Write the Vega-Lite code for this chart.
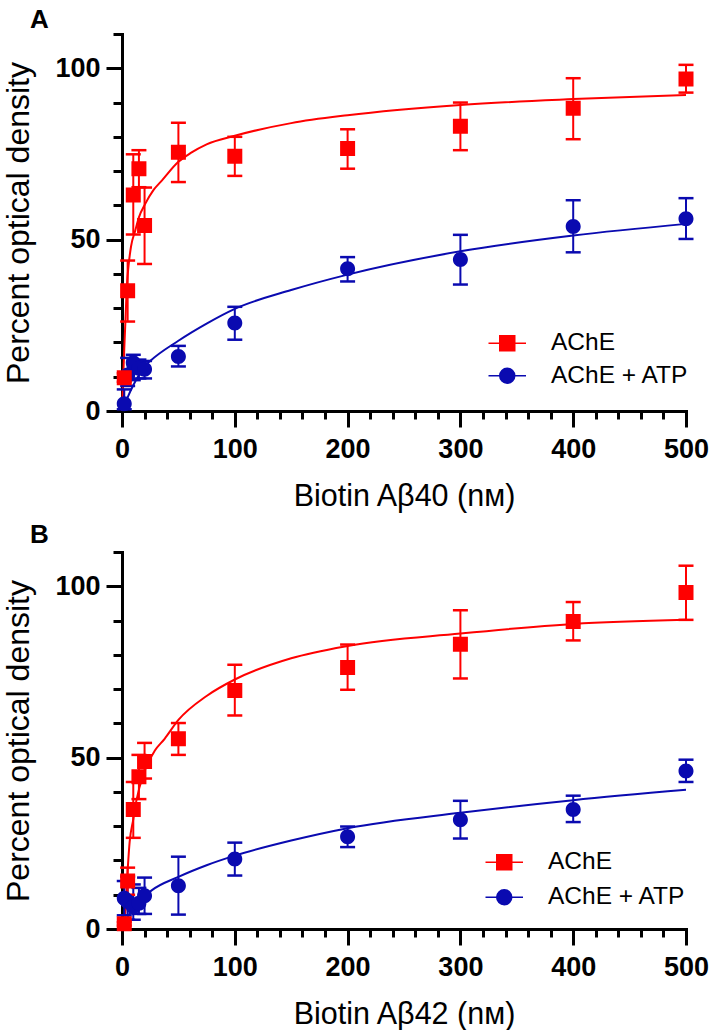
{
  "$schema": "https://vega.github.io/schema/vega-lite/v6.json",
  "padding": {"left": 2, "top": 6, "right": 0, "bottom": 0},
  "background": "white",
  "config": {
    "view": {"stroke": null},
    "font": "Liberation Sans",
    "axis": {
      "grid": false,
      "domainColor": "black",
      "domainWidth": 3,
      "domainCap": "square",
      "tickColor": "black",
      "tickWidth": 3,
      "labelFont": "Liberation Sans",
      "labelFontWeight": "bold",
      "labelFontSize": 27,
      "labelColor": "black",
      "titleFont": "Liberation Sans",
      "titleFontWeight": "normal",
      "titleColor": "black"
    },
    "legend": {
      "labelFont": "Liberation Sans",
      "labelFontSize": 24.5,
      "labelColor": "black",
      "padding": 0
    }
  },
  "datasets": {
    "points": [
      {"panel": "A", "series": "AChE + ATP", "conc": 2, "mean": 2.1, "lo": 0.5, "hi": 6.3},
      {"panel": "A", "series": "AChE + ATP", "conc": 5, "mean": 10.5, "lo": 7.3, "hi": 15.5},
      {"panel": "A", "series": "AChE + ATP", "conc": 10, "mean": 14.1, "lo": 9.0, "hi": 16.4},
      {"panel": "A", "series": "AChE + ATP", "conc": 15, "mean": 12.5, "lo": 9.5, "hi": 15.0},
      {"panel": "A", "series": "AChE + ATP", "conc": 20, "mean": 12.2, "lo": 9.5, "hi": 14.6},
      {"panel": "A", "series": "AChE + ATP", "conc": 50, "mean": 15.9, "lo": 13.0, "hi": 19.0},
      {"panel": "A", "series": "AChE + ATP", "conc": 100, "mean": 25.7, "lo": 20.8, "hi": 30.4},
      {"panel": "A", "series": "AChE + ATP", "conc": 200, "mean": 41.5, "lo": 37.8, "hi": 44.9},
      {"panel": "A", "series": "AChE + ATP", "conc": 300, "mean": 44.2, "lo": 36.9, "hi": 51.4},
      {"panel": "A", "series": "AChE + ATP", "conc": 400, "mean": 53.8, "lo": 46.3, "hi": 61.5},
      {"panel": "A", "series": "AChE + ATP", "conc": 500, "mean": 56.1, "lo": 50.2, "hi": 62.1},
      {"panel": "A", "series": "AChE", "conc": 2, "mean": 9.7, "lo": 8.5, "hi": 11.0},
      {"panel": "A", "series": "AChE", "conc": 5, "mean": 35.1, "lo": 26.1, "hi": 43.9},
      {"panel": "A", "series": "AChE", "conc": 10, "mean": 63.0, "lo": 51.5, "hi": 74.9},
      {"panel": "A", "series": "AChE", "conc": 15, "mean": 70.7, "lo": 65.3, "hi": 76.1},
      {"panel": "A", "series": "AChE", "conc": 20, "mean": 54.1, "lo": 42.9, "hi": 65.2},
      {"panel": "A", "series": "AChE", "conc": 50, "mean": 75.5, "lo": 66.8, "hi": 84.1},
      {"panel": "A", "series": "AChE", "conc": 100, "mean": 74.3, "lo": 68.6, "hi": 80.0},
      {"panel": "A", "series": "AChE", "conc": 200, "mean": 76.6, "lo": 70.7, "hi": 82.2},
      {"panel": "A", "series": "AChE", "conc": 300, "mean": 83.1, "lo": 76.1, "hi": 90.0},
      {"panel": "A", "series": "AChE", "conc": 400, "mean": 88.3, "lo": 79.3, "hi": 97.1},
      {"panel": "A", "series": "AChE", "conc": 500, "mean": 96.9, "lo": 92.9, "hi": 101.0},
      {"panel": "B", "series": "AChE + ATP", "conc": 2, "mean": 9.0, "lo": 4.0, "hi": 14.0},
      {"panel": "B", "series": "AChE + ATP", "conc": 5, "mean": 8.0, "lo": 2.7, "hi": 15.3},
      {"panel": "B", "series": "AChE + ATP", "conc": 10, "mean": 6.5, "lo": 2.7, "hi": 13.0},
      {"panel": "B", "series": "AChE + ATP", "conc": 15, "mean": 7.5, "lo": 4.4, "hi": 12.0},
      {"panel": "B", "series": "AChE + ATP", "conc": 20, "mean": 9.7, "lo": 4.4, "hi": 15.0},
      {"panel": "B", "series": "AChE + ATP", "conc": 50, "mean": 12.6, "lo": 4.2, "hi": 21.1},
      {"panel": "B", "series": "AChE + ATP", "conc": 100, "mean": 20.4, "lo": 15.6, "hi": 25.2},
      {"panel": "B", "series": "AChE + ATP", "conc": 200, "mean": 26.9, "lo": 23.9, "hi": 29.9},
      {"panel": "B", "series": "AChE + ATP", "conc": 300, "mean": 31.9, "lo": 26.4, "hi": 37.4},
      {"panel": "B", "series": "AChE + ATP", "conc": 400, "mean": 34.9, "lo": 31.2, "hi": 38.9},
      {"panel": "B", "series": "AChE + ATP", "conc": 500, "mean": 46.1, "lo": 42.9, "hi": 49.4},
      {"panel": "B", "series": "AChE", "conc": 2, "mean": 1.5, "lo": 1.0, "hi": 2.0},
      {"panel": "B", "series": "AChE", "conc": 5, "mean": 14.0, "lo": 10.0, "hi": 17.9},
      {"panel": "B", "series": "AChE", "conc": 10, "mean": 34.9, "lo": 26.6, "hi": 42.9},
      {"panel": "B", "series": "AChE", "conc": 15, "mean": 44.4, "lo": 37.9, "hi": 50.8},
      {"panel": "B", "series": "AChE", "conc": 20, "mean": 48.9, "lo": 43.9, "hi": 54.3},
      {"panel": "B", "series": "AChE", "conc": 50, "mean": 55.5, "lo": 50.8, "hi": 60.1},
      {"panel": "B", "series": "AChE", "conc": 100, "mean": 69.6, "lo": 62.3, "hi": 77.1},
      {"panel": "B", "series": "AChE", "conc": 200, "mean": 76.3, "lo": 69.8, "hi": 83.0},
      {"panel": "B", "series": "AChE", "conc": 300, "mean": 83.1, "lo": 73.1, "hi": 93.0},
      {"panel": "B", "series": "AChE", "conc": 400, "mean": 89.7, "lo": 84.2, "hi": 95.4},
      {"panel": "B", "series": "AChE", "conc": 500, "mean": 98.2, "lo": 90.2, "hi": 106.0}
    ],
    "curves": [
      {"panel": "A", "series": "AChE + ATP", "conc": 0, "fit": 0},
      {"panel": "A", "series": "AChE + ATP", "conc": 5, "fit": 4},
      {"panel": "A", "series": "AChE + ATP", "conc": 10, "fit": 7.5},
      {"panel": "A", "series": "AChE + ATP", "conc": 15, "fit": 10.5},
      {"panel": "A", "series": "AChE + ATP", "conc": 20, "fit": 13},
      {"panel": "A", "series": "AChE + ATP", "conc": 25, "fit": 14.6},
      {"panel": "A", "series": "AChE + ATP", "conc": 50, "fit": 20.5},
      {"panel": "A", "series": "AChE + ATP", "conc": 75, "fit": 25.5},
      {"panel": "A", "series": "AChE + ATP", "conc": 100, "fit": 29.8},
      {"panel": "A", "series": "AChE + ATP", "conc": 150, "fit": 35.3},
      {"panel": "A", "series": "AChE + ATP", "conc": 200, "fit": 39.8},
      {"panel": "A", "series": "AChE + ATP", "conc": 300, "fit": 46.6},
      {"panel": "A", "series": "AChE + ATP", "conc": 400, "fit": 51.2},
      {"panel": "A", "series": "AChE + ATP", "conc": 500, "fit": 54.6},
      {"panel": "A", "series": "AChE", "conc": 0, "fit": 0},
      {"panel": "A", "series": "AChE", "conc": 1, "fit": 9},
      {"panel": "A", "series": "AChE", "conc": 2, "fit": 18},
      {"panel": "A", "series": "AChE", "conc": 3, "fit": 26},
      {"panel": "A", "series": "AChE", "conc": 4.4, "fit": 37},
      {"panel": "A", "series": "AChE", "conc": 6, "fit": 43},
      {"panel": "A", "series": "AChE", "conc": 8, "fit": 48},
      {"panel": "A", "series": "AChE", "conc": 11.8, "fit": 52.7},
      {"panel": "A", "series": "AChE", "conc": 15, "fit": 56.5},
      {"panel": "A", "series": "AChE", "conc": 20.7, "fit": 60.5},
      {"panel": "A", "series": "AChE", "conc": 28, "fit": 64.5},
      {"panel": "A", "series": "AChE", "conc": 35.5, "fit": 67.3},
      {"panel": "A", "series": "AChE", "conc": 50, "fit": 72.7},
      {"panel": "A", "series": "AChE", "conc": 61, "fit": 75.3},
      {"panel": "A", "series": "AChE", "conc": 75, "fit": 77.8},
      {"panel": "A", "series": "AChE", "conc": 100, "fit": 80.3},
      {"panel": "A", "series": "AChE", "conc": 150, "fit": 84},
      {"panel": "A", "series": "AChE", "conc": 200, "fit": 86.3},
      {"panel": "A", "series": "AChE", "conc": 300, "fit": 89.3},
      {"panel": "A", "series": "AChE", "conc": 400, "fit": 91},
      {"panel": "A", "series": "AChE", "conc": 500, "fit": 92.2},
      {"panel": "B", "series": "AChE + ATP", "conc": 0, "fit": 0},
      {"panel": "B", "series": "AChE + ATP", "conc": 5, "fit": 3.5},
      {"panel": "B", "series": "AChE + ATP", "conc": 10, "fit": 6},
      {"panel": "B", "series": "AChE + ATP", "conc": 20, "fit": 9.5},
      {"panel": "B", "series": "AChE + ATP", "conc": 26, "fit": 11.2},
      {"panel": "B", "series": "AChE + ATP", "conc": 50, "fit": 15.2},
      {"panel": "B", "series": "AChE + ATP", "conc": 75, "fit": 18.6},
      {"panel": "B", "series": "AChE + ATP", "conc": 100, "fit": 21.4},
      {"panel": "B", "series": "AChE + ATP", "conc": 150, "fit": 25.8},
      {"panel": "B", "series": "AChE + ATP", "conc": 200, "fit": 29.4},
      {"panel": "B", "series": "AChE + ATP", "conc": 300, "fit": 33.9},
      {"panel": "B", "series": "AChE + ATP", "conc": 400, "fit": 37.6},
      {"panel": "B", "series": "AChE + ATP", "conc": 500, "fit": 40.6},
      {"panel": "B", "series": "AChE", "conc": 1.5, "fit": 0},
      {"panel": "B", "series": "AChE", "conc": 2.4, "fit": 2},
      {"panel": "B", "series": "AChE", "conc": 3.9, "fit": 11},
      {"panel": "B", "series": "AChE", "conc": 6.8, "fit": 25.5},
      {"panel": "B", "series": "AChE", "conc": 10, "fit": 32},
      {"panel": "B", "series": "AChE", "conc": 12.7, "fit": 37.4},
      {"panel": "B", "series": "AChE", "conc": 20, "fit": 46},
      {"panel": "B", "series": "AChE", "conc": 29, "fit": 52},
      {"panel": "B", "series": "AChE", "conc": 37.8, "fit": 55.5},
      {"panel": "B", "series": "AChE", "conc": 50, "fit": 61},
      {"panel": "B", "series": "AChE", "conc": 75, "fit": 68},
      {"panel": "B", "series": "AChE", "conc": 100, "fit": 72.8},
      {"panel": "B", "series": "AChE", "conc": 150, "fit": 79},
      {"panel": "B", "series": "AChE", "conc": 200, "fit": 82.6},
      {"panel": "B", "series": "AChE", "conc": 300, "fit": 86.2},
      {"panel": "B", "series": "AChE", "conc": 400, "fit": 89},
      {"panel": "B", "series": "AChE", "conc": 500, "fit": 90.2}
    ]
  },
  "bounds": "flush",
  "spacing": 141,
  "resolve": {"legend": {"color": "independent", "shape": "independent"}},
  "vconcat": [
    {
      "width": 564,
      "height": 377,
      "title": {"text": "A", "anchor": "start", "frame": "group", "dx": -92, "fontSize": 26, "fontWeight": "bold", "color": "black", "baseline": "alphabetic", "offset": -21},
      "resolve": {"axis": {"x": "independent", "y": "independent"}},
      "layer": [
        {
          "data": {"name": "curves"},
          "transform": [{"filter": "datum.panel === 'A'"}],
          "mark": {"type": "line", "strokeWidth": 2, "interpolate": "monotone"},
          "encoding": {
            "x": {"field": "conc", "type": "quantitative", "title": "Biotin Aβ40 (nᴍ)",
                  "scale": {"domain": [0, 500], "nice": false},
                  "axis": {"orient": "bottom", "values": [0, 100, 200, 300, 400, 500], "tickSize": 16,
                           "labelOverlap": false, "labelFlush": false, "labelBound": false,
                           "labelPadding": 9, "titlePadding": 19, "titleFontSize": 30.5}},
            "y": {"field": "fit", "type": "quantitative", "title": "Percent optical density",
                  "scale": {"domain": [0, 110], "nice": false},
                  "axis": {"orient": "left", "values": [0, 50, 100], "tickSize": 16,
                           "labelOverlap": false, "labelBound": false,
                           "labelPadding": 6, "titlePadding": 19, "titleFontSize": 32}},
            "color": {"field": "series", "type": "nominal",
                      "scale": {"domain": ["AChE", "AChE + ATP"], "range": ["#ff0000", "#0a0ab0"]}},
            "detail": {"field": "series"}
          }
        },
        {
          "data": {"name": "points"},
          "transform": [{"filter": "datum.panel === 'A'"}],
          "mark": {"type": "rule", "strokeWidth": 2},
          "encoding": {
            "x": {"field": "conc", "type": "quantitative", "title": null,
                  "axis": {"orient": "bottom", "values": [0,20,40,60,80,100,120,140,160,180,200,220,240,260,280,300,320,340,360,380,400,420,440,460,480,500],
                           "tickSize": 8, "labels": false, "domain": false, "title": null}},
            "y": {"field": "lo", "type": "quantitative", "title": null,
                  "axis": {"orient": "left", "values": [0,10,20,30,40,50,60,70,80,90,100,110],
                           "tickSize": 9, "labels": false, "domain": false, "title": null}},
            "y2": {"field": "hi"},
            "color": {"field": "series", "type": "nominal"}
          }
        },
        {
          "data": {"name": "points"},
          "transform": [{"filter": "datum.panel === 'A'"}],
          "mark": {"type": "tick", "orient": "horizontal", "size": 15, "thickness": 2.5, "opacity": 1},
          "encoding": {
            "x": {"field": "conc", "type": "quantitative", "axis": null},
            "y": {"field": "lo", "type": "quantitative", "axis": null},
            "color": {"field": "series", "type": "nominal"}
          }
        },
        {
          "data": {"name": "points"},
          "transform": [{"filter": "datum.panel === 'A'"}],
          "mark": {"type": "tick", "orient": "horizontal", "size": 15, "thickness": 2.5, "opacity": 1},
          "encoding": {
            "x": {"field": "conc", "type": "quantitative", "axis": null},
            "y": {"field": "hi", "type": "quantitative", "axis": null},
            "color": {"field": "series", "type": "nominal"}
          }
        },
        {
          "data": {"name": "points"},
          "transform": [{"filter": "datum.panel === 'A'"}],
          "mark": {"type": "point", "filled": true, "opacity": 1, "size": 225, "strokeWidth": 0},
          "encoding": {
            "x": {"field": "conc", "type": "quantitative", "axis": null},
            "y": {"field": "mean", "type": "quantitative", "axis": null},
            "color": {"field": "series", "type": "nominal",
                      "legend": {"title": null, "orient": "none", "legendX": 373, "legendY": 297, "symbolSize": 225, "labelOffset": 31.5, "rowPadding": 7.5,
                                 "encode": {"symbols": {"update": {"stroke": {"scale": "color", "field": "value"}, "strokeWidth": {"value": 2.5}, "opacity": {"value": 1}}}}}},
            "shape": {"field": "series", "type": "nominal",
                      "scale": {"domain": ["AChE", "AChE + ATP"], "range": ["M-2.5,0H2.5M-1,-1H1V1H-1Z", "M-2.5,0H2.5M1,0A1,1,0,1,1,-1,0A1,1,0,1,1,1,0Z"]},
                      "legend": {"title": null, "orient": "none", "legendX": 373, "legendY": 297, "symbolSize": 225, "labelOffset": 31.5, "rowPadding": 7.5,
                                 "encode": {"symbols": {"update": {"stroke": {"scale": "color", "field": "value"}, "strokeWidth": {"value": 2.5}, "opacity": {"value": 1}}}}}}
          }
        }
      ]
    },
    {
      "width": 564,
      "height": 377,
      "title": {"text": "B", "anchor": "start", "frame": "group", "dx": -92, "fontSize": 26, "fontWeight": "bold", "color": "black", "baseline": "alphabetic", "offset": -18},
      "resolve": {"axis": {"x": "independent", "y": "independent"}},
      "layer": [
        {
          "data": {"name": "curves"},
          "transform": [{"filter": "datum.panel === 'B'"}],
          "mark": {"type": "line", "strokeWidth": 2, "interpolate": "monotone"},
          "encoding": {
            "x": {"field": "conc", "type": "quantitative", "title": "Biotin Aβ42 (nᴍ)",
                  "scale": {"domain": [0, 500], "nice": false},
                  "axis": {"orient": "bottom", "values": [0, 100, 200, 300, 400, 500], "tickSize": 16,
                           "labelOverlap": false, "labelFlush": false, "labelBound": false,
                           "labelPadding": 9, "titlePadding": 19, "titleFontSize": 30.5}},
            "y": {"field": "fit", "type": "quantitative", "title": "Percent optical density",
                  "scale": {"domain": [0, 110], "nice": false},
                  "axis": {"orient": "left", "values": [0, 50, 100], "tickSize": 16,
                           "labelOverlap": false, "labelBound": false,
                           "labelPadding": 6, "titlePadding": 19, "titleFontSize": 32}},
            "color": {"field": "series", "type": "nominal",
                      "scale": {"domain": ["AChE", "AChE + ATP"], "range": ["#ff0000", "#0a0ab0"]}},
            "detail": {"field": "series"}
          }
        },
        {
          "data": {"name": "points"},
          "transform": [{"filter": "datum.panel === 'B'"}],
          "mark": {"type": "rule", "strokeWidth": 2},
          "encoding": {
            "x": {"field": "conc", "type": "quantitative", "title": null,
                  "axis": {"orient": "bottom", "values": [0,20,40,60,80,100,120,140,160,180,200,220,240,260,280,300,320,340,360,380,400,420,440,460,480,500],
                           "tickSize": 8, "labels": false, "domain": false, "title": null}},
            "y": {"field": "lo", "type": "quantitative", "title": null,
                  "axis": {"orient": "left", "values": [0,10,20,30,40,50,60,70,80,90,100,110],
                           "tickSize": 9, "labels": false, "domain": false, "title": null}},
            "y2": {"field": "hi"},
            "color": {"field": "series", "type": "nominal"}
          }
        },
        {
          "data": {"name": "points"},
          "transform": [{"filter": "datum.panel === 'B'"}],
          "mark": {"type": "tick", "orient": "horizontal", "size": 15, "thickness": 2.5, "opacity": 1},
          "encoding": {
            "x": {"field": "conc", "type": "quantitative", "axis": null},
            "y": {"field": "lo", "type": "quantitative", "axis": null},
            "color": {"field": "series", "type": "nominal"}
          }
        },
        {
          "data": {"name": "points"},
          "transform": [{"filter": "datum.panel === 'B'"}],
          "mark": {"type": "tick", "orient": "horizontal", "size": 15, "thickness": 2.5, "opacity": 1},
          "encoding": {
            "x": {"field": "conc", "type": "quantitative", "axis": null},
            "y": {"field": "hi", "type": "quantitative", "axis": null},
            "color": {"field": "series", "type": "nominal"}
          }
        },
        {
          "data": {"name": "points"},
          "transform": [{"filter": "datum.panel === 'B'"}],
          "mark": {"type": "point", "filled": true, "opacity": 1, "size": 225, "strokeWidth": 0},
          "encoding": {
            "x": {"field": "conc", "type": "quantitative", "axis": null},
            "y": {"field": "mean", "type": "quantitative", "axis": null},
            "color": {"field": "series", "type": "nominal",
                      "legend": {"title": null, "orient": "none", "legendX": 370, "legendY": 298, "symbolSize": 225, "labelOffset": 31.5, "rowPadding": 10,
                                 "encode": {"symbols": {"update": {"stroke": {"scale": "color", "field": "value"}, "strokeWidth": {"value": 2.5}, "opacity": {"value": 1}}}}}},
            "shape": {"field": "series", "type": "nominal",
                      "scale": {"domain": ["AChE", "AChE + ATP"], "range": ["M-2.5,0H2.5M-1,-1H1V1H-1Z", "M-2.5,0H2.5M1,0A1,1,0,1,1,-1,0A1,1,0,1,1,1,0Z"]},
                      "legend": {"title": null, "orient": "none", "legendX": 370, "legendY": 298, "symbolSize": 225, "labelOffset": 31.5, "rowPadding": 10,
                                 "encode": {"symbols": {"update": {"stroke": {"scale": "color", "field": "value"}, "strokeWidth": {"value": 2.5}, "opacity": {"value": 1}}}}}}
          }
        }
      ]
    }
  ]
}
